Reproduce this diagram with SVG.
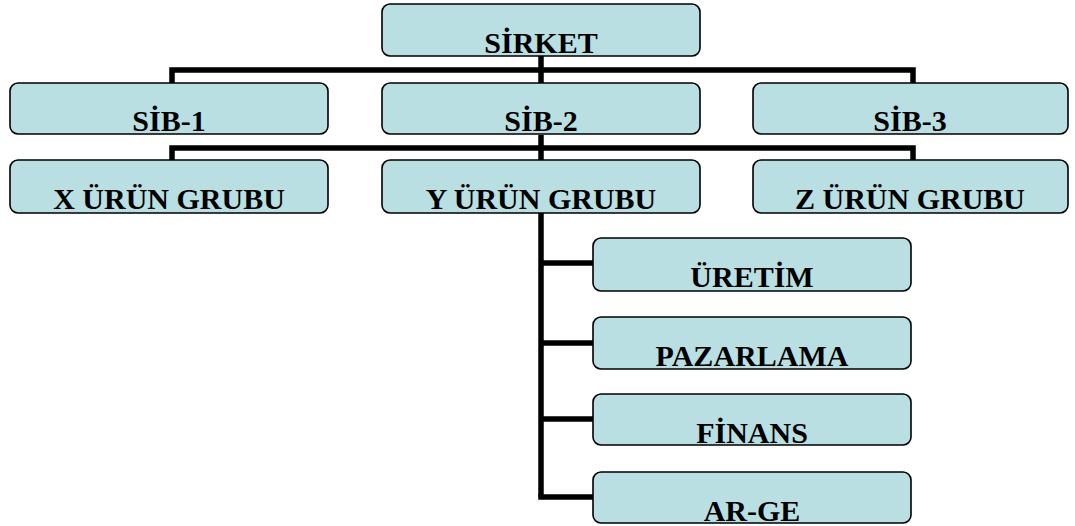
<svg xmlns="http://www.w3.org/2000/svg" width="1075" height="526" viewBox="0 0 1075 526">
<style>
.box{fill:#B9DFE3;stroke:#000;stroke-width:1.6}
.lbl{font-family:'Liberation Serif','Times New Roman','DejaVu Serif',serif;font-weight:700;font-size:30px;fill:#000;text-anchor:middle}
.con{fill:none;stroke:#000;stroke-width:5.5;stroke-linejoin:miter;stroke-linecap:butt}
</style>
<rect width="1075" height="526" fill="#fff"/>
<g id="connectors">
<path class="con" d="M541,56 V83"/>
<path class="con" d="M172,83 V70 H913 V83"/>
<path class="con" d="M172,160 V148 H913 V160"/>
<path class="con" d="M541,135 V497"/>
<path class="con" d="M541,263 H594"/>
<path class="con" d="M541,343 H594"/>
<path class="con" d="M541,419 H594"/>
<path class="con" d="M538.25,497 H594"/>
</g>
<g id="sirket"><rect class="box" x="382" y="4" width="318" height="52" rx="8"/><text class="lbl" x="541" y="53" font-family="Liberation Serif, serif">SİRKET</text></g>
<g id="sib1"><rect class="box" x="10" y="83" width="318" height="51" rx="8"/><text class="lbl" x="169" y="131">SİB-1</text></g>
<g id="sib2"><rect class="box" x="382" y="83" width="318" height="51" rx="8"/><text class="lbl" x="541" y="131">SİB-2</text></g>
<g id="sib3"><rect class="box" x="753" y="83" width="315" height="51" rx="8"/><text class="lbl" x="910" y="131">SİB-3</text></g>
<g id="xurun"><rect class="box" x="10" y="160" width="318" height="53" rx="8"/><text class="lbl" x="169" y="209">X ÜRÜN GRUBU</text></g>
<g id="yurun"><rect class="box" x="382" y="160" width="318" height="53" rx="8"/><text class="lbl" x="541" y="209">Y ÜRÜN GRUBU</text></g>
<g id="zurun"><rect class="box" x="753" y="160" width="315" height="53" rx="8"/><text class="lbl" x="910" y="209">Z ÜRÜN GRUBU</text></g>
<g id="uretim"><rect class="box" x="593" y="238" width="318" height="53" rx="8"/><text class="lbl" x="752" y="287">ÜRETİM</text></g>
<g id="pazarlama"><rect class="box" x="593" y="317" width="318" height="52" rx="8"/><text class="lbl" x="752" y="366">PAZARLAMA</text></g>
<g id="finans"><rect class="box" x="593" y="394" width="318" height="51" rx="8"/><text class="lbl" x="752" y="443">FİNANS</text></g>
<g id="arge"><rect class="box" x="593" y="472" width="318" height="51" rx="8"/><text class="lbl" x="752" y="521">AR-GE</text></g>
</svg>
